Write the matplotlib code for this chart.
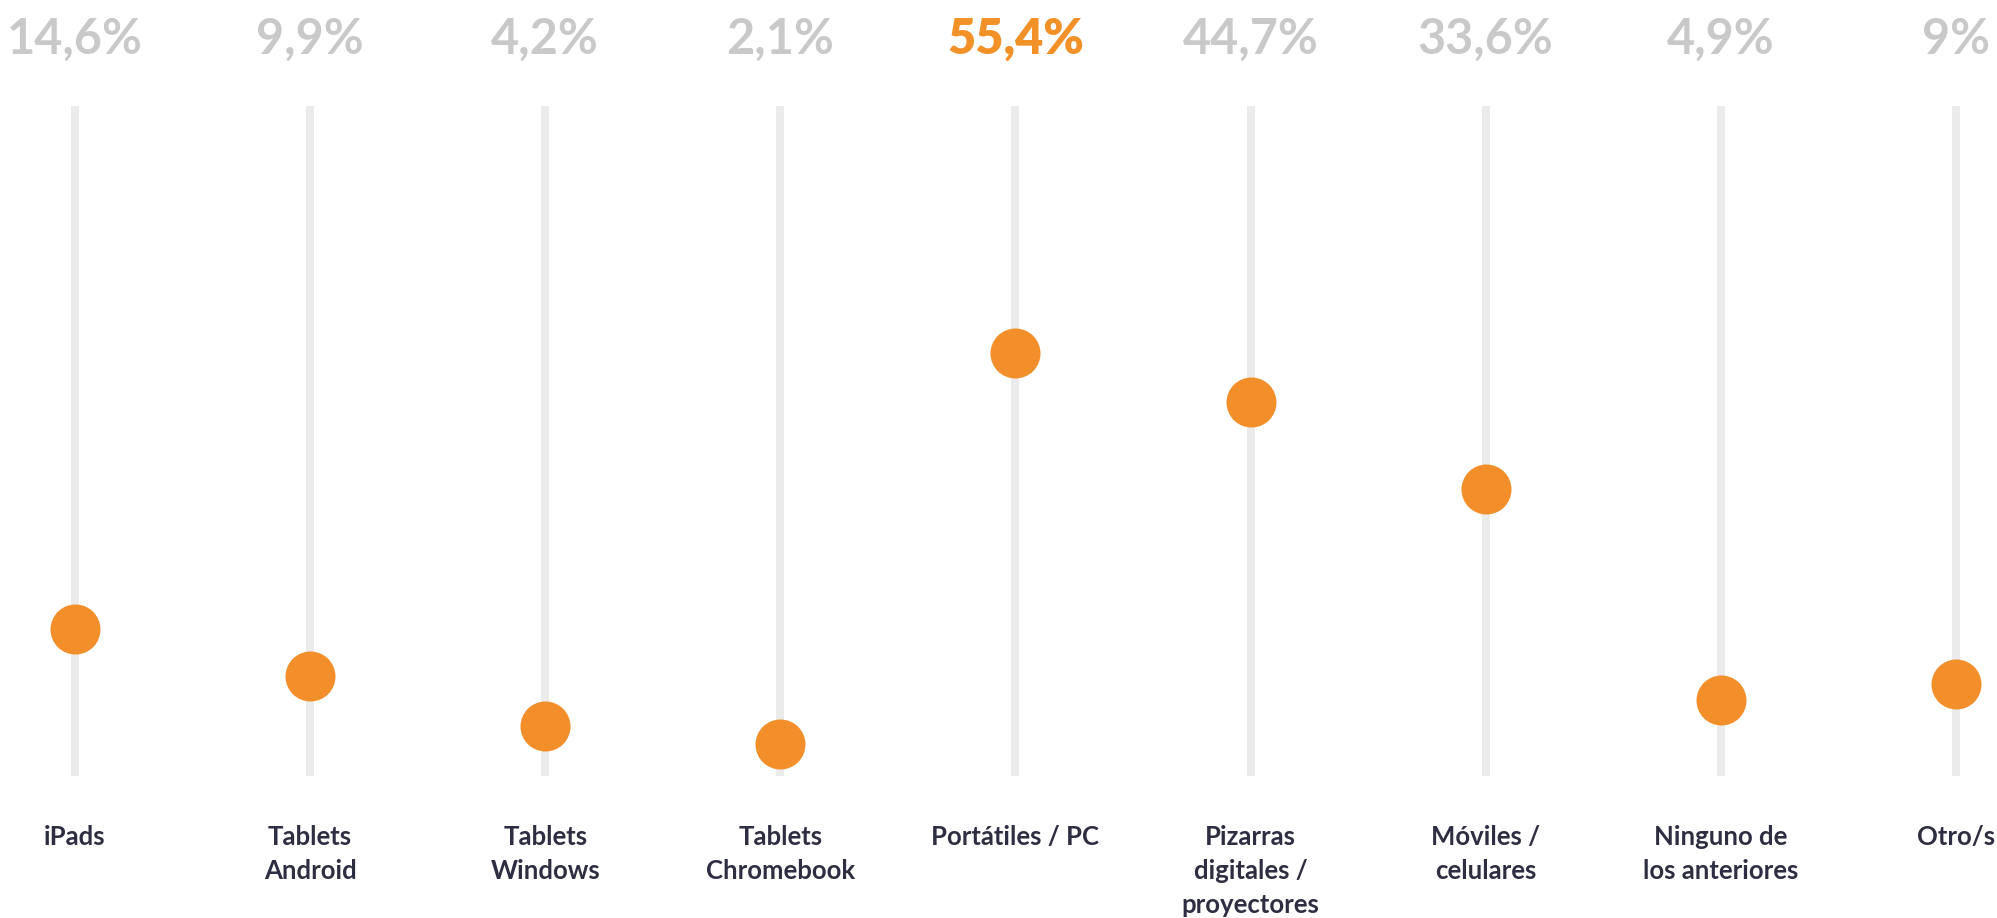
"""
Lollipop-style dot chart: device usage share per category (Spanish labels).
"""
import matplotlib.pyplot as plt

categories = [
    "iPads", "Tablets\nAndroid", "Tablets\nWindows", "Tablets\nChromebook",
    "Portátiles / PC", "Pizarras\ndigitales /\nproyectores", "Móviles /\ncelulares",
    "Ninguno de\nlos anteriores", "Otro/s",
]
pct_labels = ["14,6%", "9,9%", "4,2%", "2,1%", "55,4%", "44,7%", "33,6%", "4,9%", "9%"]
# dot heights (0 = bottom of the stem, 100 = top)
dot_values = [21.9, 14.9, 7.5, 4.8, 63.2, 55.8, 42.8, 11.3, 13.7]
highlight = 4

ORANGE = "#F28F2A"
ORANGE_TXT = "#F39129"
GREY_TXT = "#C9C9C9"
STEM = "#EBEBEB"
DARK = "#2E2E42"

plt.rcParams['font.family'] = ['Lato', 'DejaVu Sans']

W, H, DPI = 1997, 918, 100
fig = plt.figure(figsize=(W / DPI, H / DPI), dpi=DPI)
ax = fig.add_axes([0, 0, 1, 1])

# pixel layout: first stem at x=75, spacing ~235 px; stems from y=106 to y=776 (from top)
step = 235.1
x0 = 75
ax.set_xlim(-x0 / step, (W - x0) / step)
ppu = 6.7  # px per data unit
bottom_px = H - 776
ax.set_ylim(-bottom_px / ppu, 100 + 106 / ppu)
ax.axis('off')

xs = list(range(len(categories)))
ax.vlines(xs, 0, 100, color=STEM, linewidth=8 * 72 / DPI, capstyle='butt', zorder=1)
ax.scatter(xs, dot_values, s=(50 * 72 / DPI) ** 2, color=ORANGE, linewidths=0, zorder=3)

top_y = (H - 39 - bottom_px) / ppu
lab_y = (H - 825 - bottom_px) / ppu
for i, (cat, pct) in enumerate(zip(categories, pct_labels)):
    hi = i == highlight
    ax.text(i, top_y, pct, ha='center', va='center', fontsize=35,
            fontweight='heavy' if hi else 'bold',
            color=ORANGE_TXT if hi else GREY_TXT)
    ax.text(i, lab_y, cat, ha='center', va='top', fontsize=18.5,
            fontweight='bold', color=DARK, linespacing=1.5)

fig.savefig("out.png", dpi=DPI)
plt.close(fig)
